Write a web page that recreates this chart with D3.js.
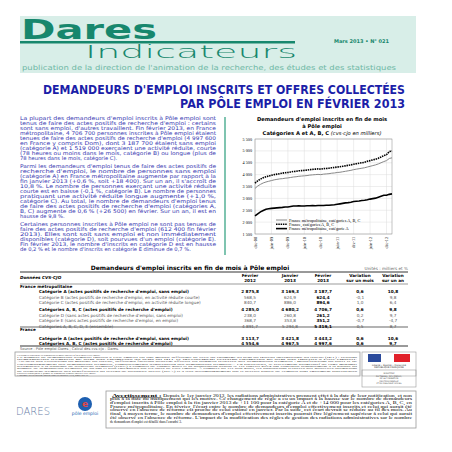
<!DOCTYPE html>
<html><head><meta charset="utf-8">
<script src="https://cdn.jsdelivr.net/npm/d3@7"></script>
<style>body{margin:0;background:#fff}svg{display:block}</style>
</head><body><div id="page"></div>
<script>
var W = 452, H = 452;

// série mensuelle, déc-08 à fév-13 (milliers)
var months = ["déc-08","juin-09","déc-09","juin-10","déc-10","juin-11","déc-11","juin-12","déc-12"];
var metroA = [2260,
  2350,2430,2490,2540,2560,2580,2590,2600,2610,2620,2640,2640,
  2660,2680,2680,2690,2680,2680,2690,2690,2700,2690,2700,2700,
  2700,2710,2710,2720,2730,2750,2770,2790,2810,2820,2840,2870,
  2880,2890,2910,2920,2940,2970,2990,3010,3050,3090,3130,3130,
  3170,3188];
var metroABC = [3420,
  3520,3590,3650,3690,3720,3750,3780,3800,3820,3830,3850,3860,
  3880,3900,3910,3930,3940,3950,3960,3980,3990,4000,4010,4000,
  4020,4030,4040,4060,4070,4090,4100,4120,4140,4160,4180,4210,
  4230,4250,4270,4290,4320,4350,4380,4410,4450,4500,4550,4590,
  4680,4707];
var franceABC = [3640,
  3740,3810,3870,3910,3940,3970,4000,4020,4040,4060,4080,4090,
  4110,4130,4140,4160,4170,4180,4190,4210,4220,4230,4240,4230,
  4250,4260,4270,4290,4300,4320,4330,4350,4370,4390,4410,4440,
  4460,4480,4500,4520,4560,4590,4620,4650,4690,4740,4800,4840,
  4968,4998];
var yTicks = [1500,2000,2500,3000,3500,4000,4500,5000,5500];

// tableau
var rowLabels = ["Catégorie A (actes positifs de recherche d'emploi, sans emploi)",
  "Catégorie B (actes positifs de recherche d'emploi, en activité réduite courte)",
  "Catégorie C (actes positifs de recherche d'emploi, en activité réduite longue)",
  "Catégories A, B, C (actes positifs de recherche d'emploi)",
  "Catégorie D (sans actes positifs de recherche d'emploi, sans emploi)",
  "Catégorie E (sans actes positifs de recherche d'emploi, en emploi)",
  "Catégories A, B, C, D, E (ensemble)",
  "Catégorie A (actes positifs de recherche d'emploi, sans emploi)",
  "Catégories A, B, C (actes positifs de recherche d'emploi)"];
var rowBold = [1,0,0,1,0,0,0,1,1];
var fev12 = ["2 875,8","568,5","840,7","4 285,0","238,0","368,7","4 891,7","3 113,7","4 554,6"];
var jan13 = ["3 169,3","624,9","886,0","4 680,2","260,8","353,8","5 294,8","3 421,8","4 967,5"];
var fev13 = ["3 187,7","624,4","894,6","4 706,7","261,2","351,2","5 319,1","3 443,2","4 997,6"];
var varM = ["0,6","-0,1","1,0","0,6","0,2","-0,7","0,5","0,6","0,6"];
var varA = ["10,8","9,8","6,4","9,8","9,7","-4,7","8,7","10,6","9,7"];
var rowY = [289,295,300,307,313,318,324,336,341];

var para = [
 ["La plupart des demandeurs d'emploi inscrits à Pôle emploi sont",
  "tenus de faire des actes positifs de recherche d'emploi : certains",
  "sont sans emploi, d'autres travaillent. Fin février 2013, en France",
  "métropolitaine, 4 706 700 personnes inscrites à Pôle emploi étaient",
  "tenues de faire des actes positifs de recherche d'emploi (4 997 600",
  "en France y compris Dom), dont 3 187 700 étaient sans emploi",
  "(catégorie A) et 1 519 000 exerçaient une activité réduite, courte",
  "(78 heures ou moins dans le mois, catégorie B) ou longue (plus de",
  "78 heures dans le mois, catégorie C)."],
 ["Parmi les demandeurs d'emploi tenus de faire des actes positifs de",
  "recherche d'emploi, le nombre de personnes sans emploi",
  "(catégorie A) en France métropolitaine augmente par rapport à la",
  "fin janvier 2013 (+0,6 %, soit +18 400). Sur un an, il s'accroît de",
  "10,8 %. Le nombre de personnes exerçant une activité réduite",
  "courte est en baisse (-0,1 %, catégorie B). Le nombre de personnes",
  "pratiquant une activité réduite longue augmente (+1,0 %,",
  "catégorie C). Au total, le nombre de demandeurs d'emploi tenus",
  "de faire des actes positifs de recherche d'emploi (catégories A,",
  "B, C) augmente de 0,6 % (+26 500) en février. Sur un an, il est en",
  "hausse de 9,8 %."],
 ["Certaines personnes inscrites à Pôle emploi ne sont pas tenues de",
  "faire des actes positifs de recherche d'emploi (612 400 fin février",
  "2013). Elles sont soit sans emploi et non immédiatement",
  "disponibles (catégorie D), soit pourvues d'un emploi (catégorie E).",
  "Fin février 2013, le nombre d'inscrits en catégorie D est en hausse",
  "de 0,2 % et le nombre d'inscrits en catégorie E diminue de 0,7 %."]];

var svg = d3.select("#page").append("svg").attr("width", W).attr("height", H)
  .style("font-family", "'DejaVu Sans', sans-serif");

// bandeau
svg.append("rect").attr("x", 20).attr("y", 16).attr("width", 396).attr("height", 57).attr("fill", "#d8eee8");
svg.append("text").attr("x", 21).attr("y", 39).text("Dares")
  .attr("font-size", 27).attr("font-weight", "bold").attr("fill", "#17876d")
  .attr("textLength", 136).attr("lengthAdjust", "spacingAndGlyphs");
svg.append("rect").attr("x", 20).attr("y", 41).attr("width", 275).attr("height", 2.5).attr("fill", "#17876d");
svg.append("text").attr("x", 85).attr("y", 58).text("Indicateurs")
  .attr("font-size", 17).attr("font-weight", 200).attr("fill", "#17876d")
  .attr("textLength", 212).attr("lengthAdjust", "spacingAndGlyphs");
svg.append("text").attr("x", 334).attr("y", 43).text("Mars 2013 • N° 021")
  .attr("font-size", 5).attr("font-weight", "bold").attr("fill", "#17876d");
svg.append("text").attr("x", 22).attr("y", 70).text("publication de la direction de l'animation de la recherche, des études et des statistiques")
  .attr("font-size", 7).attr("fill", "#6fb8a5").attr("textLength", 374).attr("lengthAdjust", "spacingAndGlyphs");

// titre
[["DEMANDEURS D'EMPLOI INSCRITS ET OFFRES COLLECTÉES", 94, 362], ["PAR PÔLE EMPLOI EN FÉVRIER 2013", 108, 225]].forEach(function(t) {
  svg.append("text").attr("x", 405).attr("y", t[1]).attr("text-anchor", "end").text(t[0])
    .attr("font-size", 12).attr("font-weight", "bold").attr("fill", "#1b1ea8")
    .attr("textLength", t[2]).attr("lengthAdjust", "spacingAndGlyphs");
});

// colonne de texte
var ly = 120;
para.forEach(function(p) {
  p.forEach(function(l, i) {
    var t = svg.append("text").attr("x", 20).attr("y", ly).text(l)
      .attr("font-size", 5.2).attr("fill", "#3535b0");
    if (i < p.length - 1) t.attr("textLength", 196).attr("lengthAdjust", "spacingAndGlyphs");
    ly += 5.05;
  });
  ly += 2.5;
});
svg.append("rect").attr("x", 224).attr("y", 117).attr("width", 2).attr("height", 138).attr("fill", "#7fc4b0");

// graphique
var ct = svg.append("g").attr("font-weight", "bold").attr("text-anchor", "middle").attr("font-size", 5.2);
ct.append("text").attr("x", 322).attr("y", 121).text("Demandeurs d'emploi inscrits en fin de mois");
ct.append("text").attr("x", 322).attr("y", 128).text("à Pôle emploi");
var c3 = ct.append("text").attr("x", 322).attr("y", 135);
c3.append("tspan").text("Catégories A et A, B, C ");
c3.append("tspan").attr("font-weight", "normal").attr("font-style", "italic").text("(cvs-cjo en milliers)");

var px0 = 255, px1 = 392, py0 = 139, py1 = 234;
var x = d3.scaleLinear().domain([0, 50]).range([px0, px1]);
var y = d3.scaleLinear().domain([1500, 5500]).range([py1, py0]);
var g = svg.append("g").style("font-family", "'Liberation Serif', serif");
g.selectAll(".hg").data(yTicks).enter().append("line")
  .attr("x1", px0).attr("x2", px1).attr("y1", y).attr("y2", y).attr("stroke", "#ddd").attr("stroke-width", 0.5);
g.selectAll(".vg").data(d3.range(0, 49, 6)).enter().append("line")
  .attr("x1", x).attr("x2", x).attr("y1", py0).attr("y2", py1).attr("stroke", "#ddd").attr("stroke-width", 0.5);
g.append("rect").attr("x", px0).attr("y", py0).attr("width", px1 - px0).attr("height", py1 - py0)
  .attr("fill", "none").attr("stroke", "#888").attr("stroke-width", 0.5);
g.selectAll(".yl").data(yTicks).enter().append("text")
  .attr("x", px0 - 3).attr("y", function(d) { return y(d) + 1.5; }).attr("text-anchor", "end")
  .attr("font-size", 4.2).text(function(d) { return d3.format(",")(d).replace(",", " "); });
g.selectAll(".xl").data(months).enter().append("text")
  .attr("transform", function(d, i) { return "translate(" + (x(i * 6) + 1.5) + "," + (py1 + 3) + ") rotate(-90)"; })
  .attr("text-anchor", "end").attr("font-size", 4.2).text(function(d) { return d; });

var line = d3.line().x(function(d, i) { return x(i); }).y(function(d) { return y(d); });
g.append("path").attr("d", line(metroABC)).attr("fill", "none").attr("stroke", "#888").attr("stroke-width", 1);
g.append("path").attr("d", line(franceABC)).attr("fill", "none").attr("stroke", "#000").attr("stroke-width", 1.6).attr("stroke-dasharray", "1.5,0.8");
g.append("path").attr("d", line(metroA)).attr("fill", "none").attr("stroke", "#000").attr("stroke-width", 1.6);

var leg = [["France métropolitaine, catégories A, B, C", "#888", 1, null],
           ["France, catégories A, B, C", "#000", 1.4, "1.5,0.8"],
           ["France métropolitaine, catégorie A", "#000", 1.6, null]];
leg.forEach(function(l, i) {
  var ly2 = 220 + i * 4.3;
  g.append("line").attr("x1", 276).attr("x2", 287).attr("y1", ly2).attr("y2", ly2)
    .attr("stroke", l[1]).attr("stroke-width", l[2]).attr("stroke-dasharray", l[3]);
  g.append("text").attr("x", 289).attr("y", ly2 + 1.5).attr("font-size", 4.3).text(l[0]);
});

// tableau
var tb = svg.append("g").attr("font-size", 4.2);
tb.append("text").attr("x", 190).attr("y", 270).attr("font-size", 6).attr("font-weight", "bold").attr("text-anchor", "middle")
  .text("Demandeurs d'emploi inscrits en fin de mois à Pôle emploi");
tb.append("text").attr("x", 408).attr("y", 270).attr("text-anchor", "end").attr("fill", "#666").text("Unités : milliers et %");
tb.append("line").attr("x1", 20).attr("x2", 408).attr("y1", 272).attr("y2", 272).attr("stroke", "#000").attr("stroke-width", 0.8);
tb.append("text").attr("x", 20).attr("y", 279).attr("font-style", "italic").attr("font-weight", "bold").text("Données CVS-CJO");
var cx = [250, 290, 323, 360, 393];
var hd = [["Février", "2012"], ["Janvier", "2013"], ["Février", "2013"], ["Variation", "sur un mois"], ["Variation", "sur un an"]];
hd.forEach(function(h, i) {
  tb.append("text").attr("x", cx[i]).attr("y", 277).attr("text-anchor", "middle").attr("font-weight", "bold").text(h[0]);
  tb.append("text").attr("x", cx[i]).attr("y", 282).attr("text-anchor", "middle").attr("font-weight", "bold").text(h[1]);
});
tb.append("line").attr("x1", 20).attr("x2", 408).attr("y1", 284).attr("y2", 284).attr("stroke", "#000").attr("stroke-width", 0.4);
tb.append("text").attr("x", 20).attr("y", 288).attr("font-weight", "bold").text("France métropolitaine");
tb.append("line").attr("x1", 20).attr("x2", 408).attr("y1", 327).attr("y2", 327).attr("stroke", "#000").attr("stroke-width", 0.6);
tb.append("text").attr("x", 20).attr("y", 331).attr("font-weight", "bold").text("France");
var cols = [fev12, jan13, fev13, varM, varA];
rowLabels.forEach(function(r, i) {
  var yy = rowY[i] + 3.5, b = rowBold[i];
  tb.append("text").attr("x", 39).attr("y", yy).text(r)
    .attr("font-weight", b ? "bold" : "normal").attr("fill", b ? "#000" : "#555");
  cols.forEach(function(c, j) {
    tb.append("text").attr("x", cx[j]).attr("y", yy).attr("text-anchor", "middle").text(c[i])
      .attr("font-weight", (b || j == 2) ? "bold" : "normal").attr("fill", (b || j == 2) ? "#000" : "#555");
  });
});
tb.append("line").attr("x1", 20).attr("x2", 408).attr("y1", 346).attr("y2", 346).attr("stroke", "#000").attr("stroke-width", 0.8);
tb.append("text").attr("x", 20).attr("y", 350).attr("font-size", 3.6).attr("fill", "#555").text("Source : Pôle emploi-Dares ; Calcul des cvs-cjo : Dares.");

// encadré notes
svg.append("rect").attr("x", 15).attr("y", 352).attr("width", 345).attr("height", 24).attr("fill", "none").attr("stroke", "#999").attr("stroke-width", 0.8);
var notes = ["Les données concernent les demandeurs d'emploi inscrits en fin de mois à Pôle emploi.",
  "Le nombre de demandeurs d'emploi inscrits à Pôle emploi est une mesure différente de celle du chômage au sens du Bureau international du travail (BIT) : certains",
  "demandeurs d'emploi ne sont pas chômeurs au sens du BIT et inversement certains chômeurs ne sont pas inscrits à Pôle emploi.",
  "Au-delà des évolutions du marché du travail, différents facteurs peuvent affecter les données relatives aux demandeurs d'emploi : modifications du suivi et de",
  "l'accompagnement des demandeurs d'emploi, comportements d'inscription des demandeurs d'emploi... En particulier, le relèvement progressif de l'âge minimal",
  "d'éligibilité à la dispense de recherche d'emploi (DRE) à compter de l'année 2009 et sa suppression depuis le 1er janvier 2012 ont contribué sensiblement à la hausse du",
  "nombre de demandeurs d'emploi de 55 ans et plus enregistrés sur les listes de Pôle emploi. À compter du 1er juin 2009, les dispositions relatives aux nouvelles obligations",
  "de recherche d'emploi des bénéficiaires du revenu de solidarité active (RSA) et à leur accompagnement par le service public de l'emploi sont également susceptibles",
  "d'accroître sensiblement le nombre de demandeurs d'emploi inscrits à Pôle emploi.",
  "L'ensemble des définitions figurent dans les encadrés 1 et 2, pages 14 à 19."];
notes.forEach(function(n, i) {
  var t = svg.append("text").attr("x", 17).attr("y", 355.5 + i * 2.3).attr("font-size", 2.4).attr("fill", "#333")
    .style("font-family", "'Liberation Serif', serif").text(n);
  if (i >= 1 && i <= 7) t.attr("textLength", 340).attr("lengthAdjust", "spacingAndGlyphs");
});

// logos
svg.append("rect").attr("x", 362).attr("y", 352).attr("width", 54).attr("height", 24).attr("fill", "none").attr("stroke", "#999").attr("stroke-width", 0.6);
svg.append("rect").attr("x", 368).attr("y", 354).attr("width", 13).attr("height", 8).attr("fill", "#2b4a9b");
svg.append("rect").attr("x", 394).attr("y", 354).attr("width", 16).attr("height", 8).attr("fill", "#e1212a");
svg.append("text").attr("x", 389).attr("y", 365.5).attr("text-anchor", "middle").attr("font-size", 2.4).attr("fill", "#333").text("Liberté • Égalité • Fraternité");
svg.append("text").attr("x", 389).attr("y", 368).attr("text-anchor", "middle").attr("font-size", 2.4).attr("fill", "#333").text("RÉPUBLIQUE FRANÇAISE");
svg.append("rect").attr("x", 362).attr("y", 370).attr("width", 54).attr("height", 17).attr("fill", "none").attr("stroke", "#999").attr("stroke-width", 0.6);
["MINISTÈRE", "DU TRAVAIL, DE L'EMPLOI,", "DE LA FORMATION", "PROFESSIONNELLE", "ET DU DIALOGUE SOCIAL"].forEach(function(s, i) {
  svg.append("text").attr("x", 389).attr("y", 374 + i * 2.5).attr("text-anchor", "middle").attr("font-size", 2).attr("fill", "#444").text(s);
});

svg.append("text").attr("x", 16).attr("y", 415).text("DARES").attr("font-size", 10).attr("fill", "#6a7fa8").attr("font-weight", 300);
svg.append("circle").attr("cx", 85).attr("cy", 404).attr("r", 7).attr("fill", "#1d5fb0");
svg.append("text").attr("x", 85).attr("y", 407).attr("text-anchor", "middle").attr("font-size", 9).attr("font-weight", "bold").attr("fill", "#e04848").text("e");
svg.append("text").attr("x", 85).attr("y", 415).attr("text-anchor", "middle").attr("font-size", 4.5).attr("fill", "#1d5fb0").text("pôle emploi");

// avertissement
svg.append("rect").attr("x", 106).attr("y", 391).attr("width", 310).attr("height", 37).attr("fill", "none").attr("stroke", "#999").attr("stroke-width", 0.8);
var av = ["Depuis le 1er janvier 2013, les radiations administratives prennent effet à la date de leur notification, et non",
  "plus à la date du manquement qui les motive. Ce changement de règle a eu un impact à la hausse sur le nombre de demandeurs",
  "d'emploi inscrits à Pôle emploi à la fin janvier 2013 de +11 100 pour la catégorie A et de +14 000 pour les catégories A, B, C, en",
  "France métropolitaine. En février, l'écart entre le nombre de demandeurs d'emploi effectivement inscrits et celui qui aurait été",
  "observé en l'absence de réforme est proche de celui estimé en janvier. Par la suite, cet écart devrait se réduire au fil des mois. Au",
  "final, à moyen terme, le nombre de demandeurs d'emploi effectivement inscrits pourrait être légèrement supérieur à celui qui aurait",
  "été observé en l'absence de réforme. L'impact de la modification des règles de gestion des radiations administratives sur le nombre",
  "de demandeurs d'emploi est détaillé dans l'encadré 3."];
var a0 = svg.append("text").attr("x", 112).attr("y", 396.5).attr("font-size", 3.4)
  .attr("textLength", 300).attr("lengthAdjust", "spacingAndGlyphs").style("font-family", "'Liberation Serif', serif");
a0.append("tspan").attr("font-weight", "bold").attr("text-decoration", "underline").attr("font-size", 4.4).text("Avertissement :");
a0.append("tspan").text(" " + av[0]);
av.slice(1).forEach(function(l, i) {
  var t = svg.append("text").attr("x", 110).attr("y", 400.3 + i * 3.7).attr("font-size", 3.4)
    .style("font-family", "'Liberation Serif', serif").text(l);
  if (i < av.length - 2) t.attr("textLength", 302).attr("lengthAdjust", "spacingAndGlyphs");
});
</script></body></html>
